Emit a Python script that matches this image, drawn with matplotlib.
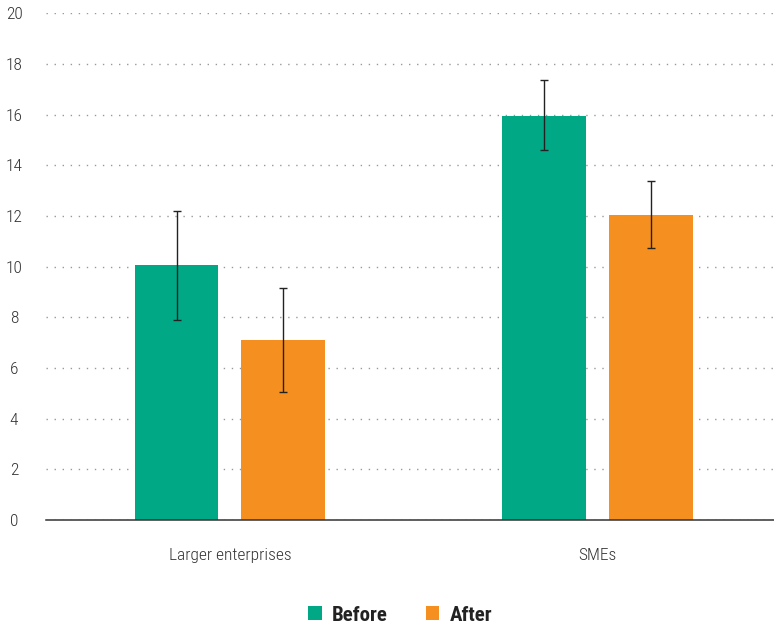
import matplotlib

matplotlib.use("Agg")
import matplotlib.pyplot as plt
import numpy as np
from matplotlib import font_manager as fm

categories = ["Larger enterprises", "SMEs"]
series = ["Before", "After"]
values = {
    "Before": [10.05, 15.93],
    "After": [7.1, 12.04],
}
err_low = {
    "Before": [10.05 - 7.88, 15.93 - 14.61],
    "After": [7.1 - 5.04, 12.04 - 10.72],
}
err_high = {
    "Before": [12.18 - 10.05, 17.35 - 15.93],
    "After": [9.14 - 7.1, 13.36 - 12.04],
}
yticks = list(range(0, 21, 2))

GREEN, ORANGE = "#00a886", "#f58f1f"
TEXT = "#333333"

# pick a condensed face, Roboto Condensed first
have = {f.name for f in fm.fontManager.ttflist}
fam = next((f for f in ["Roboto Condensed", "Barlow Semi Condensed", "Archivo Narrow", "Roboto"]
            if f in have), "DejaVu Sans")
plt.rcParams["font.family"] = [fam, "DejaVu Sans"]

fig = plt.figure(figsize=(7.74, 6.27), dpi=100)
ax = fig.add_axes([0.0594, 0.1707, 0.9406, 0.8083])

x = np.arange(len(categories)) + 0.5
width = 0.228
offsets = {"Before": -0.145, "After": 0.145}
colors = {"Before": GREEN, "After": ORANGE}
for s in series:
    ax.bar(x + offsets[s], values[s], width, color=colors[s], label=s, zorder=2,
           yerr=[err_low[s], err_high[s]], capsize=3,
           error_kw=dict(ecolor="#222222", elinewidth=1.0, capthick=1.0))

ax.set_xlim(0, 1.98)
ax.set_ylim(0, 20)
ax.set_yticks(yticks)
ax.set_yticklabels([str(v) for v in yticks], ha="center", fontweight="light")
ax.set_xticks(x)
ax.set_xticklabels(categories, fontweight="light")
ax.tick_params(axis="y", length=0, pad=23, labelsize=12.5, labelcolor=TEXT)
ax.tick_params(axis="x", length=0, pad=20, labelsize=12.5, labelcolor=TEXT)
ax.yaxis.grid(True, color="#999999", linestyle=(0, (1, 4.8)), linewidth=1.0, zorder=0)
ax.set_axisbelow(True)
for side in ["left", "right", "top"]:
    ax.spines[side].set_visible(False)
ax.spines["bottom"].set_color(TEXT)
ax.spines["bottom"].set_linewidth(1.1)
ax.spines["bottom"].set_zorder(3)

fig.legend(loc="center", bbox_to_anchor=(0.517, 0.019), ncol=2, frameon=False,
           handlelength=0.65, handleheight=0.65, handletextpad=0.5, columnspacing=1.8,
           prop=dict(family=[fam, "DejaVu Sans"], weight="bold", size=15))
for t in fig.legends[0].get_texts():
    t.set_color("#222222")

fig.savefig("out.png", dpi=100)
